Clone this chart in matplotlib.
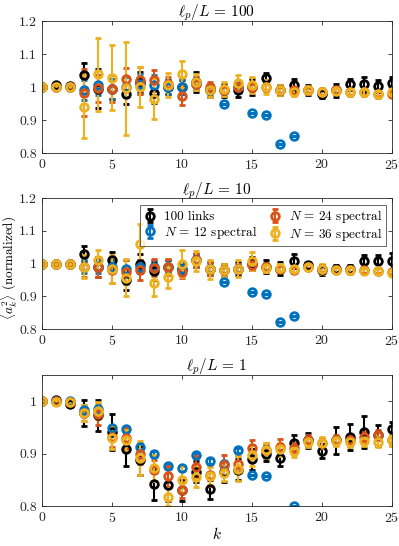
import numpy as np
import matplotlib
matplotlib.use('Agg')
import matplotlib.pyplot as plt

plt.rcParams['font.family'] = 'serif'
plt.rcParams['font.serif'] = ['cmr10']
plt.rcParams['mathtext.fontset'] = 'cm'
plt.rcParams['axes.unicode_minus'] = False
plt.rcParams['axes.formatter.use_mathtext'] = True
plt.rcParams['font.size'] = 10

# mode numbers
k_all = list(range(26))
k_blue = list(range(19))  # N = 12 spectral only goes up to k = 18

# ---- l_p/L = 100 ----
links_100 = [1.0, 1.005, 1.003, 1.035, 0.995, 0.993, 0.98, 1.015, 0.983, 1.0, 1.0, 1.015, 0.99,
             0.99, 0.99, 1.0, 1.028, 0.99, 1.006, 0.99, 0.98, 0.99, 1.008, 1.008, 1.004, 1.013]
links_100_err = [0.005, 0.008, 0.006, 0.037, 0.06, 0.03, 0.033, 0.03, 0.03, 0.02, 0.02, 0.03, 0.02,
                 0.02, 0.02, 0.025, 0.015, 0.015, 0.017, 0.015, 0.012, 0.02, 0.016, 0.022, 0.018, 0.018]
n12_100 = [1.0, 1.0, 1.0, 0.99, 1.005, 0.995, 1.0, 1.01, 1.005, 1.0, 1.0, 1.01, 0.995,
           0.947, 1.0, 0.922, 0.915, 0.826, 0.85]
n12_100_err = [0.003, 0.003, 0.003, 0.03, 0.03, 0.03, 0.03, 0.03, 0.03, 0.02, 0.02, 0.02, 0.015,
               0.0, 0.015, 0.0, 0.0, 0.0, 0.0]
n24_100 = [1.0, 1.0, 1.0, 0.983, 0.996, 0.995, 1.023, 1.02, 1.02, 1.01, 0.973, 1.01, 1.0,
           0.99, 1.0, 1.0, 1.0, 0.99, 0.99, 0.99, 0.985, 0.99, 0.985, 0.985, 0.98, 0.978]
n24_100_err = [0.003, 0.003, 0.003, 0.072, 0.04, 0.04, 0.035, 0.04, 0.032, 0.02, 0.027, 0.02, 0.016,
               0.012, 0.012, 0.012, 0.012, 0.01, 0.01, 0.008, 0.008, 0.008, 0.008, 0.008, 0.008, 0.008]
n36_100 = [1.0, 1.0, 1.0, 0.94, 1.038, 1.028, 0.996, 1.0, 0.965, 1.006, 1.038, 1.015, 0.99,
           0.994, 1.011, 1.006, 1.0, 0.99, 0.986, 0.99, 0.986, 0.988, 0.984, 0.984, 0.978, 0.986]
n36_100_err = [0.003, 0.003, 0.003, 0.096, 0.11, 0.098, 0.14, 0.06, 0.062, 0.035, 0.042, 0.025, 0.02,
               0.02, 0.025, 0.025, 0.02, 0.015, 0.012, 0.012, 0.01, 0.01, 0.01, 0.01, 0.01, 0.01]

# ---- l_p/L = 10 ----
links_10 = [1.0, 1.0, 1.0, 1.03, 0.99, 1.01, 0.95, 1.0, 0.978, 0.99, 0.985, 1.01, 0.985,
            0.98, 0.985, 1.0, 0.99, 0.985, 1.007, 0.995, 0.98, 0.985, 0.985, 1.007, 1.007, 1.007]
links_10_err = [0.004, 0.004, 0.004, 0.023, 0.03, 0.025, 0.03, 0.03, 0.027, 0.02, 0.015, 0.02, 0.02,
                0.02, 0.02, 0.02, 0.02, 0.02, 0.021, 0.01, 0.015, 0.01, 0.01, 0.019, 0.019, 0.026]
n12_10 = [1.0, 1.0, 1.0, 0.99, 0.99, 0.99, 0.985, 0.99, 0.99, 0.99, 0.985, 1.01, 0.985,
          0.944, 0.985, 0.913, 0.908, 0.82, 0.84]
n12_10_err = [0.003, 0.003, 0.003, 0.02, 0.02, 0.02, 0.025, 0.02, 0.02, 0.02, 0.02, 0.02, 0.015,
              0.0, 0.015, 0.0, 0.0, 0.0, 0.0]
n24_10 = [1.0, 1.0, 1.0, 0.99, 0.99, 0.98, 0.975, 0.98, 0.988, 0.99, 0.975, 1.01, 0.985,
          0.98, 0.985, 0.995, 0.99, 0.985, 0.98, 0.99, 0.985, 0.98, 0.98, 0.98, 0.978, 0.975]
n24_10_err = [0.003, 0.003, 0.003, 0.03, 0.03, 0.04, 0.037, 0.03, 0.025, 0.025, 0.02, 0.02, 0.02,
              0.015, 0.015, 0.015, 0.012, 0.01, 0.01, 0.01, 0.01, 0.01, 0.01, 0.008, 0.008, 0.008]
n36_10 = [1.0, 1.0, 1.0, 0.99, 1.01, 0.983, 0.957, 1.059, 0.94, 0.96, 1.0, 1.008, 0.982,
          0.98, 0.985, 1.008, 0.988, 0.988, 0.982, 0.99, 0.983, 0.98, 0.98, 0.977, 0.977, 0.971]
n36_10_err = [0.003, 0.003, 0.003, 0.035, 0.033, 0.043, 0.057, 0.063, 0.038, 0.034, 0.042, 0.03, 0.028,
              0.02, 0.027, 0.028, 0.015, 0.012, 0.012, 0.01, 0.015, 0.01, 0.012, 0.01, 0.01, 0.01]

# ---- l_p/L = 1 ----
links_1 = [1.0, 1.002, 0.994, 0.978, 0.973, 0.941, 0.908, 0.887, 0.841, 0.84, 0.83, 0.865, 0.832,
           0.865, 0.869, 0.889, 0.9, 0.892, 0.92, 0.925, 0.905, 0.925, 0.932, 0.941, 0.935, 0.946]
links_1_err = [0.003, 0.004, 0.005, 0.025, 0.03, 0.035, 0.032, 0.027, 0.029, 0.03, 0.02, 0.02, 0.018,
               0.02, 0.02, 0.02, 0.015, 0.015, 0.015, 0.015, 0.013, 0.025, 0.025, 0.03, 0.02, 0.015]
n12_1 = [1.0, 1.0, 1.0, 0.984, 0.985, 0.948, 0.947, 0.913, 0.899, 0.876, 0.872, 0.897, 0.886,
         0.88, 0.906, 0.86, 0.857, 0.78, 0.8]
n12_1_err = [0.003, 0.003, 0.003, 0.005, 0.005, 0.005, 0.005, 0.005, 0.005, 0.005, 0.005, 0.005, 0.005,
             0.005, 0.005, 0.0, 0.0, 0.0, 0.0]
n24_1 = [1.0, 1.0, 0.998, 0.978, 0.975, 0.932, 0.929, 0.9, 0.868, 0.857, 0.831, 0.875, 0.859,
         0.878, 0.881, 0.91, 0.906, 0.913, 0.91, 0.925, 0.92, 0.926, 0.925, 0.932, 0.935, 0.925]
n24_1_err = [0.003, 0.003, 0.003, 0.015, 0.02, 0.02, 0.02, 0.02, 0.02, 0.02, 0.015, 0.02, 0.02,
             0.02, 0.015, 0.015, 0.015, 0.015, 0.01, 0.01, 0.01, 0.01, 0.01, 0.01, 0.01, 0.01]
n36_1 = [1.0, 0.999, 0.999, 0.978, 0.982, 0.929, 0.925, 0.892, 0.873, 0.817, 0.85, 0.855, 0.857,
         0.862, 0.871, 0.897, 0.906, 0.908, 0.905, 0.922, 0.921, 0.924, 0.922, 0.924, 0.922, 0.925]
n36_1_err = [0.003, 0.003, 0.003, 0.015, 0.016, 0.021, 0.02, 0.032, 0.025, 0.017, 0.026, 0.019, 0.017,
             0.015, 0.024, 0.02, 0.015, 0.012, 0.012, 0.01, 0.01, 0.01, 0.01, 0.01, 0.01, 0.01]

labels = ['100 links', r'$N\,=\,12$ spectral', r'$N\,=\,24$ spectral', r'$N\,=\,36$ spectral']
colors = ['black', (0.0, 0.447, 0.741), (0.85, 0.325, 0.098), (0.929, 0.694, 0.125)]

panels = [
    (r'$\ell_p/L\,=\,100$', (links_100, links_100_err), (n12_100, n12_100_err),
     (n24_100, n24_100_err), (n36_100, n36_100_err), (0.8, 1.2)),
    (r'$\ell_p/L\,=\,10$', (links_10, links_10_err), (n12_10, n12_10_err),
     (n24_10, n24_10_err), (n36_10, n36_10_err), (0.8, 1.2)),
    (r'$\ell_p/L\,=\,1$', (links_1, links_1_err), (n12_1, n12_1_err),
     (n24_1, n24_1_err), (n36_1, n36_1_err), (0.8, 1.05)),
]

fig = plt.figure(figsize=(3.99, 5.46), dpi=100)
boxes = [[0.105, 0.7198, 0.877, 0.2417],
         [0.105, 0.3974, 0.877, 0.2396],
         [0.105, 0.0733, 0.877, 0.2399]]

axes = []
for box, panel in zip(boxes, panels):
    ax = fig.add_axes(box)
    title, *series, ylim = panel
    for i, (vals, errs) in enumerate(series):
        kk = k_blue if i == 1 else k_all
        ax.errorbar(kk, vals, yerr=errs, fmt='o', color=colors[i], mfc='none',
                    ms=5.5, mew=2.0, elinewidth=1.5, capsize=2.4, capthick=1.5,
                    label=labels[i])
    ax.set_xlim(0, 25)
    ax.set_ylim(*ylim)
    ax.set_xticks([0, 5, 10, 15, 20, 25])
    if ylim[1] > 1.1:
        ax.set_yticks([0.8, 0.9, 1.0, 1.1, 1.2])
        ax.set_yticklabels(['0.8', '0.9', '1', '1.1', '1.2'])
    else:
        ax.set_yticks([0.8, 0.9, 1.0])
        ax.set_yticklabels(['0.8', '0.9', '1'])
    ax.set_title(title, fontsize=11, pad=3)
    ax.tick_params(direction='in', top=True, right=True, length=3, width=0.6,
                   colors='#262626', labelsize=10)
    for s in ax.spines.values():
        s.set_color('#262626')
        s.set_linewidth(0.6)
    axes.append(ax)

axes[1].set_ylabel(r'$\langle a_k^2 \rangle$ (normalized)', fontsize=9.5)
axes[1].yaxis.set_label_coords(-0.064, 0.47)
axes[2].set_xlabel(r'$k$', fontsize=11, labelpad=1)

leg = axes[1].legend(ncol=2, loc='upper right', bbox_to_anchor=(0.983, 0.947),
                     fontsize=9.5, frameon=True, fancybox=False, edgecolor='#262626',
                     handlelength=1.0, handletextpad=0.6, columnspacing=0.8,
                     borderpad=0.25, labelspacing=0.05, borderaxespad=0)
leg.get_frame().set_linewidth(0.6)

fig.savefig('out.png', dpi=100)
